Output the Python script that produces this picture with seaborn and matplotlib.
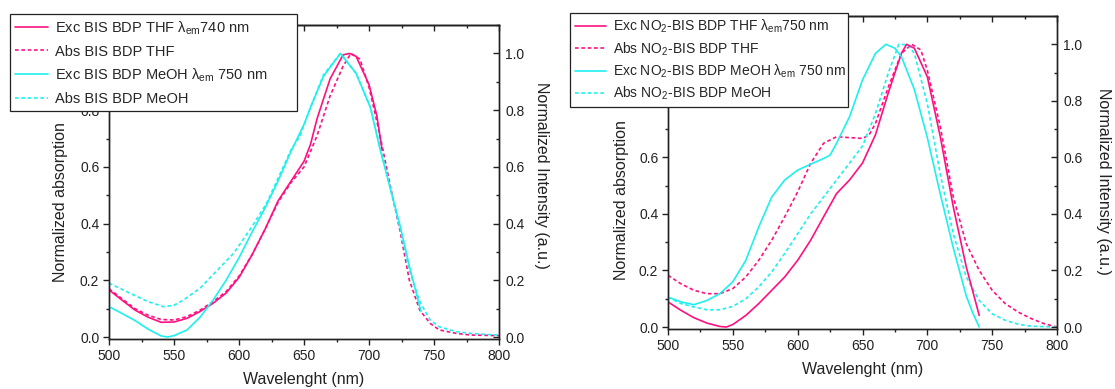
import matplotlib
matplotlib.use("Agg")
import matplotlib.pyplot as plt
import seaborn as sns
from matplotlib.ticker import MultipleLocator

# ---------------- data ----------------
# Left panel: BIS BDP
wl_exc_thf_L = [500, 510, 520, 530, 540, 550, 560, 570, 580, 590, 600, 610, 620, 630, 640, 650, 655,
                660, 670, 680, 685, 690, 700, 706, 710]
exc_thf_L = [0.166, 0.13, 0.095, 0.07, 0.052, 0.053, 0.066, 0.09, 0.119, 0.155, 0.21, 0.29, 0.38, 0.48,
             0.55, 0.62, 0.68, 0.77, 0.91, 0.995, 1.0, 0.99, 0.89, 0.78, 0.66]

wl_abs_thf_L = [500, 510, 520, 530, 540, 550, 560, 570, 580, 590, 600, 610, 620, 630, 640, 650, 660,
                670, 680, 686, 693, 700, 708, 716, 724, 731, 739, 747, 754, 767, 778, 800]
abs_thf_L = [0.17, 0.135, 0.10, 0.077, 0.062, 0.06, 0.072, 0.095, 0.125, 0.16, 0.215, 0.29, 0.38, 0.475,
             0.545, 0.60, 0.71, 0.85, 0.955, 1.0, 0.98, 0.88, 0.72, 0.54, 0.37, 0.20, 0.095, 0.048,
             0.025, 0.013, 0.007, 0.005]

wl_exc_meoh_L = [500, 510, 520, 530, 540, 545, 550, 560, 570, 580, 590, 600, 610, 620, 630, 640, 650,
                 655, 665, 678, 690, 701, 708, 716, 724, 731, 739, 740]
exc_meoh_L = [0.107, 0.083, 0.058, 0.028, 0.004, 0.0, 0.005, 0.025, 0.07, 0.13, 0.20, 0.28, 0.37, 0.455,
              0.55, 0.655, 0.75, 0.81, 0.92, 1.0, 0.93, 0.81, 0.67, 0.53, 0.39, 0.25, 0.107, 0.09]

wl_abs_meoh_L = [500, 510, 520, 530, 542, 550, 557, 570, 580, 596, 610, 621, 630, 640, 647, 655, 665,
                 678, 690, 701, 708, 716, 724, 731, 739, 747, 754, 767, 778, 790, 800]
abs_meoh_L = [0.19, 0.168, 0.146, 0.125, 0.107, 0.112, 0.13, 0.172, 0.22, 0.296, 0.39, 0.47, 0.56, 0.66,
              0.71, 0.81, 0.925, 1.0, 0.93, 0.81, 0.68, 0.53, 0.38, 0.235, 0.125, 0.06, 0.036, 0.019,
              0.013, 0.009, 0.007]

# Right panel: NO2-BIS BDP
wl_exc_thf_R = [500, 510, 520, 530, 540, 545, 550, 560, 570, 580, 590, 600, 610, 620, 630, 640, 650,
                660, 670, 680, 684, 690, 700, 710, 720, 730, 740]
exc_thf_R = [0.089, 0.059, 0.033, 0.014, 0.002, 0.0, 0.009, 0.041, 0.083, 0.13, 0.177, 0.236, 0.307,
             0.39, 0.472, 0.52, 0.58, 0.68, 0.83, 0.968, 1.0, 0.986, 0.885, 0.673, 0.425, 0.213, 0.041]

wl_abs_thf_R = [500, 510, 520, 530, 540, 550, 560, 570, 580, 590, 600, 610, 620, 630, 640, 650, 655,
                660, 670, 680, 688, 695, 700, 710, 720, 730, 740, 750, 760, 770, 780, 790, 800]
abs_thf_R = [0.183, 0.153, 0.13, 0.118, 0.118, 0.136, 0.177, 0.236, 0.307, 0.39, 0.478, 0.579, 0.65,
             0.673, 0.67, 0.667, 0.679, 0.72, 0.85, 0.968, 1.0, 0.98, 0.908, 0.708, 0.46, 0.295, 0.20,
             0.13, 0.083, 0.053, 0.03, 0.012, 0.0]

wl_exc_meoh_R = [500, 510, 520, 530, 540, 550, 560, 570, 580, 590, 600, 610, 620, 625, 630, 640, 650,
                 660, 668, 675, 680, 690, 700, 710, 720, 730, 735, 740]
exc_meoh_R = [0.106, 0.089, 0.079, 0.094, 0.118, 0.16, 0.236, 0.354, 0.46, 0.52, 0.555, 0.576, 0.596,
              0.608, 0.65, 0.744, 0.874, 0.968, 1.0, 0.986, 0.956, 0.84, 0.67, 0.47, 0.28, 0.11, 0.05,
              0.0]

wl_abs_meoh_R = [500, 510, 520, 530, 540, 550, 560, 570, 580, 590, 600, 610, 620, 630, 640, 650, 660,
                 670, 678, 685, 690, 700, 710, 720, 730, 740, 750, 760, 770, 780, 800]
abs_meoh_R = [0.106, 0.083, 0.071, 0.061, 0.061, 0.073, 0.10, 0.142, 0.195, 0.26, 0.33, 0.40, 0.46,
              0.52, 0.58, 0.64, 0.755, 0.90, 1.0, 0.998, 0.968, 0.79, 0.54, 0.33, 0.177, 0.094, 0.047,
              0.024, 0.01, 0.003, 0.0]

labels_L = ["Exc BIS BDP THF λ$_{\\mathrm{em}}$740 nm",
            "Abs BIS BDP THF",
            "Exc BIS BDP MeOH λ$_{\\mathrm{em}}$ 750 nm",
            "Abs BIS BDP MeOH"]
labels_R = ["Exc NO$_{2}$-BIS BDP THF λ$_{\\mathrm{em}}$750 nm",
            "Abs NO$_{2}$-BIS BDP THF",
            "Exc NO$_{2}$-BIS BDP MeOH λ$_{\\mathrm{em}}$ 750 nm",
            "Abs NO$_{2}$-BIS BDP MeOH"]

x_label = "Wavelenght (nm)"
yl_label = "Normalized absorption"
yr_label = "Normalized Intensity (a.u.)"

# ---------------- style ----------------
sns.set_theme(style="ticks")
plt.rcParams["font.family"] = ["Liberation Sans", "DejaVu Sans"]
plt.rcParams["mathtext.fontset"] = "custom"
plt.rcParams["mathtext.rm"] = "Liberation Sans"
plt.rcParams["mathtext.it"] = "Liberation Sans:italic"
plt.rcParams["mathtext.bf"] = "Liberation Sans:bold"
plt.rcParams["mathtext.default"] = "regular"
plt.rcParams["axes.linewidth"] = 1.0

MAG = "#FF1080"
CYA = "#1EF0F0"
INK = "#222222"
LW = 1.2
DOT = (0, (2.2, 1.6))

fig = plt.figure(figsize=(11.15, 3.89), dpi=100)
axL = fig.add_axes([0.0978, 0.1285, 0.3498, 0.807])
axR = fig.add_axes([0.5991, 0.1542, 0.3489, 0.8046])


def panel(ax, data, labels, leg_box, leg_fs, leg_sp, ylab_xy, yrlab_xy):
    tw = ax.twinx()
    (we1, e1), (wa1, a1), (we2, e2), (wa2, a2) = data
    # absorption on left axis, excitation on right axis
    sns.lineplot(x=wa1, y=a1, ax=ax, color=MAG, lw=LW, linestyle=DOT, sort=False, estimator=None,
                 legend=False)
    sns.lineplot(x=wa2, y=a2, ax=ax, color=CYA, lw=LW, linestyle=DOT, sort=False, estimator=None,
                 legend=False)
    sns.lineplot(x=we1, y=e1, ax=tw, color=MAG, lw=LW, sort=False, estimator=None, legend=False)
    sns.lineplot(x=we2, y=e2, ax=tw, color=CYA, lw=LW, sort=False, estimator=None, legend=False)

    for a in (ax, tw):
        a.set_xlim(500, 800)
        a.set_ylim(-0.007, 1.1)
        a.yaxis.set_major_locator(MultipleLocator(0.2))
        a.yaxis.set_minor_locator(MultipleLocator(0.1))
    ax.xaxis.set_major_locator(MultipleLocator(50))
    ax.xaxis.set_minor_locator(MultipleLocator(25))

    ax.tick_params(axis="both", which="major", direction="out", length=4.5, width=1.0,
                   labelsize=10, pad=2.5, colors=INK, labelcolor=INK)
    ax.tick_params(axis="both", which="minor", direction="out", length=2.5, width=1.0, colors=INK)
    ax.tick_params(axis="y", right=False, which="both")
    tw.tick_params(axis="y", which="major", direction="in", length=4.5, width=1.0, labelsize=10,
                   pad=4.5, colors=INK, labelcolor=INK)
    tw.tick_params(axis="y", which="minor", direction="in", length=2.5, width=1.0, colors=INK)

    top = ax.secondary_xaxis("top")
    top.xaxis.set_major_locator(MultipleLocator(50))
    top.xaxis.set_minor_locator(MultipleLocator(25))
    top.tick_params(axis="x", which="major", direction="in", length=4.5, width=1.0,
                    labeltop=False, colors=INK)
    top.tick_params(axis="x", which="minor", direction="in", length=2.5, width=1.0, colors=INK)

    for a in (ax, tw):
        for s in a.spines.values():
            s.set_color(INK)
            s.set_linewidth(1.0)
    top.spines["top"].set_color(INK)

    ax.set_xlabel(x_label, fontsize=11.5, labelpad=7, color=INK)
    ax.set_ylabel(yl_label, fontsize=11.5, color=INK)
    ax.yaxis.set_label_coords(*ylab_xy)
    tw.set_ylabel(yr_label, fontsize=11.5, rotation=270, color=INK)
    tw.yaxis.label.set_verticalalignment("bottom")
    tw.yaxis.set_label_coords(*yrlab_xy)

    handles = [tw.lines[0], ax.lines[0], tw.lines[1], ax.lines[1]]
    x0, ytop, w = leg_box
    leg = tw.legend(handles, labels, loc="upper left", bbox_to_anchor=(x0, ytop - 0.01, w, 0.01),
                    mode="expand", bbox_transform=fig.transFigure, borderaxespad=0,
                    fontsize=leg_fs, handlelength=2.25, handletextpad=0.5, labelspacing=leg_sp,
                    borderpad=0.35, fancybox=False, framealpha=1, edgecolor=INK, facecolor="white")
    leg.get_frame().set_linewidth(0.9)
    leg.set_zorder(20)
    return tw


panel(axL, [(wl_exc_thf_L, exc_thf_L), (wl_abs_thf_L, abs_thf_L),
            (wl_exc_meoh_L, exc_meoh_L), (wl_abs_meoh_L, abs_meoh_L)],
      labels_L, (10 / 1115, 1 - 14 / 389, 287 / 1115), 10.5, 0.55,
      (-0.106, 0.436), (1.090, 0.522))
panel(axR, [(wl_exc_thf_R, exc_thf_R), (wl_abs_thf_R, abs_thf_R),
            (wl_exc_meoh_R, exc_meoh_R), (wl_abs_meoh_R, abs_meoh_R)],
      labels_R, (570 / 1115, 1 - 13 / 389, 278 / 1115), 10, 0.36,
      (-0.100, 0.412), (1.099, 0.47))

fig.savefig("out.png", dpi=100)
